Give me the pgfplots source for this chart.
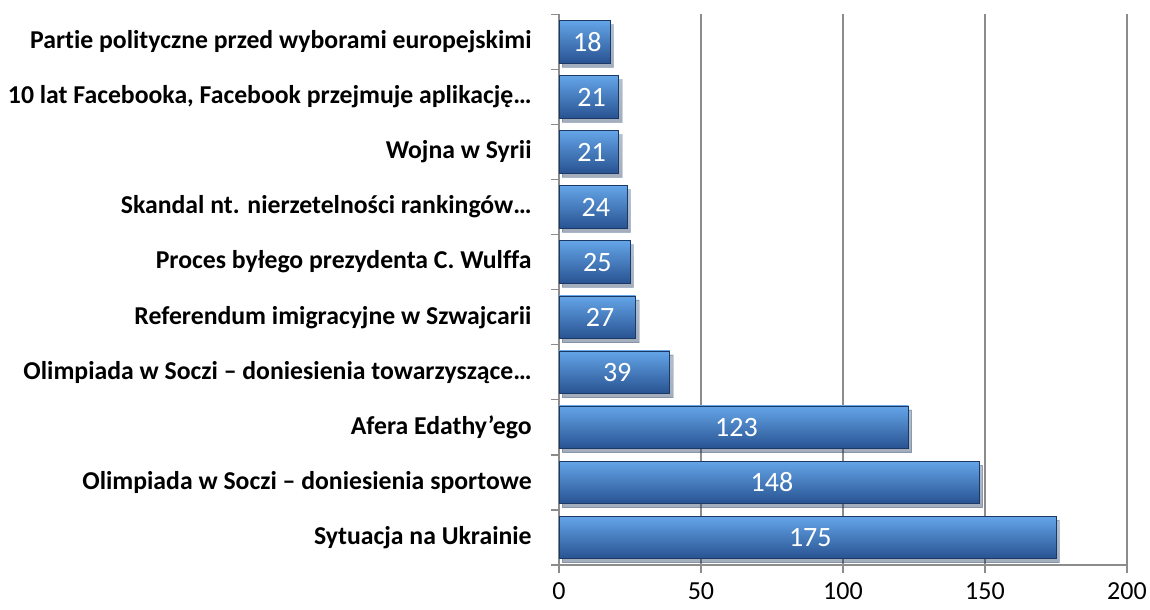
\documentclass[border=0pt]{standalone}
\usepackage{fontspec}
\setmainfont{Carlito}[Ligatures={NoCommon}]
\usepackage{pgfplots}
\pgfplotsset{compat=1.18}
\usepackage{pgfplotstable}
\usetikzlibrary{shadows}
\definecolor{barmid}{RGB}{62,120,195}
\definecolor{bartop}{RGB}{100,165,232}
\definecolor{barbot}{RGB}{40,82,145}
\definecolor{gridgray}{RGB}{140,140,140}
\pgfplotstableread{
y v
0 175
1 148
2 123
3 39
4 27
5 25
6 24
7 21
8 21
9 18
}\data
\begin{document}
\begin{tikzpicture}
\useasboundingbox (-419.25pt,-33.75pt) rectangle (443.25pt,423.75pt);
\begin{axis}[
  at={(0,0)}, anchor=south west,
  scale only axis, width=426pt, height=413pt,
  xmin=0, xmax=200, ymin=-0.5, ymax=9.5,
  bar width=32pt,
  axis lines=left, axis line style={-, draw=gridgray, line width=1pt},
  xtick={0,50,100,150,200},
  xmajorgrids, grid style={draw=gridgray, line width=1pt},
  x tick style={draw=gridgray, line width=1pt},
  tick align=outside, major tick length=6pt,
  ytick={0,...,9},
  y tick style={draw=none},
  yticklabels={
    Sytuacja na Ukrainie,
    Olimpiada w Soczi – doniesienia sportowe,
    Afera Edathy’ego,
    Olimpiada w Soczi – doniesienia towarzyszące…,
    Referendum imigracyjne w Szwajcarii,
    Proces byłego prezydenta C. Wulffa,
    Skandal nt. nierzetelności rankingów…,
    Wojna w Syrii,
    {10 lat Facebooka, Facebook przejmuje aplikację…},
    Partie polityczne przed wyborami europejskimi},
  yticklabel style={font=\fontsize{19.3pt}{22pt}\selectfont\bfseries, xshift=-11pt},
  xticklabel style={font=\fontsize{19.5pt}{22pt}\selectfont, yshift=-6pt, inner sep=1pt},
  /pgf/number format/assume math mode=true,
  extra y ticks={-0.5,0.5,...,9.5},
  extra y tick labels={},
  extra y tick style={y tick style={draw=gridgray, line width=1pt}, major tick length=6pt, tick align=outside},
  clip=false,
  mybar/.style={xbar, bar shift=0pt, draw=barbot!70!black, line width=0.5pt,
    top color=bartop, middle color=barmid, bottom color=barbot,
    drop shadow={shadow xshift=2.5pt, shadow yshift=-3pt, opacity=0.22, fill=black}},
]
\addplot[mybar] coordinates {(175,0)};
\addplot[mybar] coordinates {(148,1)};
\addplot[mybar] coordinates {(123,2)};
\addplot[mybar] coordinates {(39,3)};
\addplot[mybar] coordinates {(27,4)};
\addplot[mybar] coordinates {(25,5)};
\addplot[mybar] coordinates {(24,6)};
\addplot[mybar] coordinates {(21,7)};
\addplot[mybar] coordinates {(21,8)};
\addplot[mybar] coordinates {(18,9)};
\addplot[draw=none, mark=none,
  nodes near coords, point meta=explicit,
  every node near coord/.append style={anchor=center, text=white, font=\fontsize{21pt}{24pt}\selectfont, /pgf/number format/assume math mode=true}]
  table[x expr=\thisrow{v}/2+1, y=y, meta=v] {\data};
\end{axis}
\end{tikzpicture}
\end{document}
